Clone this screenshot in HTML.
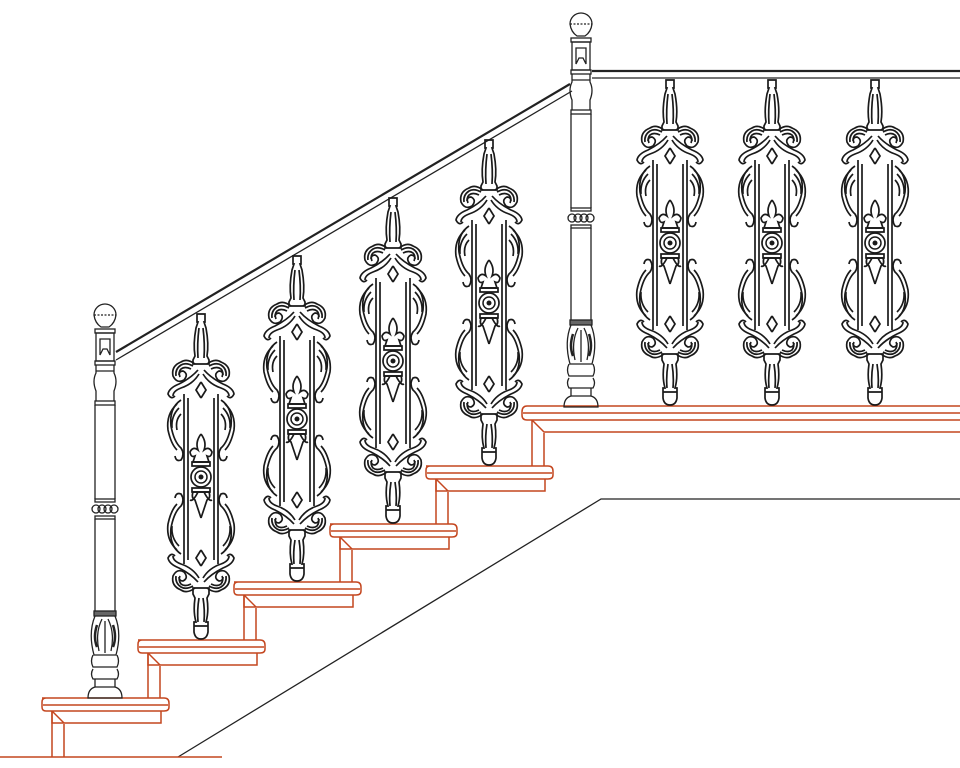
<!DOCTYPE html>
<html><head><meta charset="utf-8"><style>html,body{margin:0;padding:0;background:#fff}svg{display:block}</style></head>
<body>
<svg width="960" height="768" viewBox="0 0 960 768" xmlns="http://www.w3.org/2000/svg">
<defs>
<g id="half" fill="none" stroke="#1a1a1a" stroke-width="1.7">
  <path d="M0 0 H4 V8 H3 L5 14 Q8 30 6 42 L8 46 V50 H0"/>
  <path d="M2 14 Q4 30 3 44"/>
  <path d="M6 50 Q14 44 20 48 Q30 52 28 62 Q24 70 17 66 Q12 60 18 57 Q22 57 22 61"/>
  <path d="M8 52 Q15 48 20 51 Q26 55 25 62"/>
  <path d="M10 55 Q16 52 20 55 Q23 58 21 63"/>
  <path d="M3 56 Q10 64 22 70 Q32 74 33 80 Q30 86 26 82"/>
  <path d="M2 60 Q8 70 20 74 Q28 77 28 82"/>
  <path d="M0 68 L5 76 L0 84"/>
  <path d="M13 84 V246 M17 80 V250"/>
  <path d="M20 86 Q32 94 30 112 Q27 128 20 134 Q16 140 20 146 Q25 148 26 142"/>
  <path d="M24 90 Q35 100 33 116 Q30 130 24 136"/>
  <path d="M20 100 Q26 106 24 116"/>
  <path d="M22 94 Q30 102 29 114"/>
  <path d="M0 120 Q6 128 3 136 Q8 132 11 138 Q10 144 6 142 L8 148 H0"/>
  <path d="M0 148 H9 V152 H0"/>
  <path d="M0 174 H9 V178 H0"/>
  <path d="M0 178 H8 Q10 184 6 186 Q4 192 0 204"/>
  <path d="M3 178 Q8 188 11 186"/>
  <path d="M20 240 Q32 232 30 214 Q27 198 20 192 Q16 186 20 180 Q25 178 26 184"/>
  <path d="M24 236 Q35 226 33 210 Q30 196 24 190"/>
  <path d="M22 232 Q30 224 29 212"/>
  <path d="M0 236 L5 244 L0 252"/>
  <path d="M3 268 Q10 260 22 254 Q32 250 33 244 Q30 238 26 242"/>
  <path d="M2 264 Q8 254 20 250 Q28 247 28 242"/>
  <path d="M6 274 Q14 280 20 276 Q30 272 28 262 Q24 254 17 258 Q12 264 18 267 Q22 267 22 263"/>
  <path d="M8 272 Q15 276 20 273 Q26 269 25 262"/>
  <path d="M10 270 Q16 273 20 270 Q23 266 21 262"/>
  <path d="M0 274 H8 V280 L6 284 Q8 298 5 308 H7 V318 Q6 325 0 325"/>
  <path d="M2 284 Q4 296 3 308 M0 312 H7"/>
</g>
<g id="bal">
  <use href="#half"/>
  <use href="#half" transform="scale(-1,1)"/>
  <circle cx="0" cy="163" r="10" fill="none" stroke="#1a1a1a" stroke-width="1.7"/>
  <circle cx="0" cy="163" r="6" fill="none" stroke="#1a1a1a" stroke-width="1.5"/>
  <circle cx="0" cy="163" r="2.5" fill="#1a1a1a"/>
</g>
<g id="newel" fill="none" stroke="#222" stroke-width="1.3">
  <path d="M-11 12 A11 11 0 0 1 11 12 Q10 20 4 24 H-4 Q-10 20 -11 12 Z"/>
  <path d="M-11 12 H11" stroke-dasharray="2 1.5"/>
  <rect x="-10" y="26" width="20" height="4"/>
  <rect x="-9" y="30" width="18" height="28"/>
  <path d="M-5 52 V36 H5 V52 L2 46 H-2 Z"/>
  <rect x="-10" y="58" width="20" height="4"/>
  <path d="M-9 62 V70 Q-13 78 -9 88 V98 M9 62 V70 Q13 78 9 88 V98"/>
  <path d="M-9 68 H9"/>
  <rect x="-10" y="98" width="20" height="4"/>
  <path d="M-10 102 V196 M10 102 V196 M-10 216 V308 M10 216 V308"/>
  <rect x="-10" y="196" width="20" height="3"/>
  <rect x="-10" y="213" width="20" height="3"/>
  <circle cx="-9" cy="206" r="4"/><circle cx="-3" cy="206" r="4"/><circle cx="3" cy="206" r="4"/><circle cx="9" cy="206" r="4"/>
  <rect x="-11" y="308" width="22" height="5" fill="#666"/>
  <path d="M-10 313 Q-17 330 -11 352 H11 Q17 330 10 313"/>
  <path d="M-3 316 Q-10 330 -6 348 M3 316 Q10 330 6 348 M0 318 V350"/>
  <path d="M-8 322 Q-12 334 -8 344 M8 322 Q12 334 8 344" stroke-width="2.5"/>
  <path d="M-12 352 Q-15 358 -12 364 H12 Q15 358 12 352 M-12 366 Q-15 371 -12 376 H12 Q15 371 12 366"/>
  <path d="M-10 376 V384 Q-17 386 -17 395 H17 Q17 386 10 384 V376"/>
  <path d="M-10 384 H10"/>
</g>
<g id="step" fill="none" stroke="#c4461f" stroke-width="1.5">
  <path d="M0 0 H122 Q127 0 127 5 V9 Q127 13 122 13 H4 Q0 13 0 9 V4 Q0 0 4 0 Z"/>
  <path d="M1 7 H126"/>
  <path d="M10 13 V25 H119 V13"/>
  <path d="M10 13 L22 25"/>
</g>
</defs>

<g fill="none" stroke="#222" stroke-width="1.3">
  <path d="M178 757 L601 499 H960"/>
  <path d="M116 352 L570 84" stroke-width="2.2"/>
  <path d="M116 360 L572 91"/>
  <path d="M592 71 H960" stroke-width="2.2"/>
  <path d="M592 78 H960"/>
</g>

<g fill="none" stroke="#c4461f" stroke-width="1.5">
  <path d="M0 757 H222"/>
  <path d="M52 711 V757 M64 724 V757"/>
  <path d="M148 653 V698 M160 666 V698"/>
  <path d="M244 595 V640 M256 608 V640"/>
  <path d="M340 537 V582 M352 550 V582"/>
  <path d="M436 479 V524 M448 492 V524"/>
  <path d="M532 420 V466 M544 433 V466"/>
  <path d="M527 406 H960 M522 412 Q522 406 527 406 M522 412 V415 Q522 420 527 420 H960 M523 413 H960"/>
  <path d="M532 420 L544 432 H960"/>
</g>
<use href="#step" transform="translate(42,698)"/>
<use href="#step" transform="translate(138,640)"/>
<use href="#step" transform="translate(234,582)"/>
<use href="#step" transform="translate(330,524)"/>
<use href="#step" transform="translate(426,466)"/>

<use href="#newel" transform="translate(105,303)"/>
<use href="#newel" transform="translate(581,12)"/>

<use href="#bal" transform="translate(201,314)"/>
<use href="#bal" transform="translate(297,256)"/>
<use href="#bal" transform="translate(393,198)"/>
<use href="#bal" transform="translate(489,140)"/>
<use href="#bal" transform="translate(670,80)"/>
<use href="#bal" transform="translate(772,80)"/>
<use href="#bal" transform="translate(875,80)"/>
</svg>
</body></html>
